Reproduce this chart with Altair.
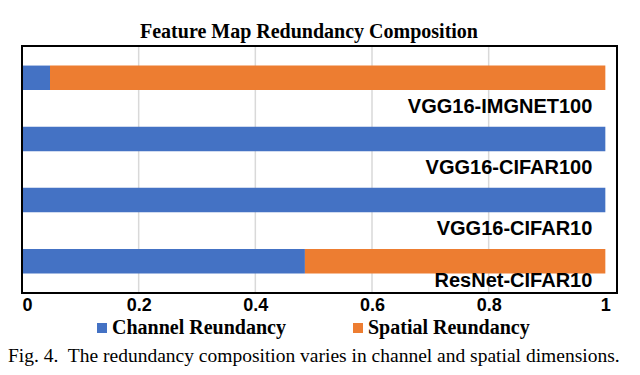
import altair as alt
import pandas as pd

# ---- data -------------------------------------------------------------
models = ["VGG16-IMGNET100", "VGG16-CIFAR100", "VGG16-CIFAR10", "ResNet-CIFAR10"]
channel_share = [0.048, 1.0, 1.0, 0.485]
spatial_share = [0.952, 0.0, 0.0, 0.515]
series_names = ["Channel Reundancy", "Spatial Reundancy"]
series_colors = ["#4472C4", "#ED7D31"]
tick_values = [0, 0.2, 0.4, 0.6, 0.8, 1]
grid_values = [0.2, 0.4, 0.6, 0.8]
title_text = "Feature Map Redundancy Composition"
caption_text = "Fig. 4.\u00a0 The redundancy composition varies in channel and spatial dimensions."

rows = []
for m, c, s in zip(models, channel_share, spatial_share):
    rows.append({"model": m, "series": series_names[0], "value": c, "ord": 0})
    rows.append({"model": m, "series": series_names[1], "value": s, "ord": 1})
df = pd.DataFrame(rows)
labels_df = pd.DataFrame({"model": models, "pos": [1.0] * len(models)})
grid_df = pd.DataFrame({"g": grid_values})
one_row = pd.DataFrame({"f": [0]})

W, H = 595, 247
xscale = alt.Scale(domain=[0, 1.02], nice=False, zero=True)
yscale = alt.Scale(domain=models, paddingInner=0.6, paddingOuter=0.32)

x_axis = alt.Axis(
    values=tick_values,
    format="~g",
    title=None,
    grid=False,
    ticks=False,
    domain=False,
    labelFont="Liberation Sans",
    labelFontWeight="bold",
    labelFontSize=18,
    labelColor="black",
    labelPadding=3,
)

grid = alt.Chart(grid_df).mark_rule(color="#d9d9d9", strokeWidth=1.5).encode(
    x=alt.X("g:Q", scale=xscale, axis=x_axis)
)

bars = alt.Chart(df).mark_bar().encode(
    x=alt.X("value:Q", stack="zero", scale=xscale, axis=x_axis),
    y=alt.Y("model:N", scale=yscale, axis=None),
    color=alt.Color(
        "series:N",
        scale=alt.Scale(domain=series_names, range=series_colors),
        legend=alt.Legend(
            title=None,
            orient="none",
            legendX=70,
            legendY=272,
            direction="horizontal",
            symbolType="square",
            symbolSize=100,
            symbolStrokeWidth=0,
            symbolOpacity=1,
            labelFont="Liberation Serif",
            labelFontWeight="bold",
            labelFontSize=20,
            labelColor="black",
            labelOffset=0,
            labelLimit=400,
            columnPadding=62,
            padding=0,
        ),
    ),
    order=alt.Order("ord:Q"),
)

label_font = dict(
    font="Liberation Sans", fontWeight="bold", fontSize=20, color="black",
    align="right", baseline="alphabetic", dx=-13,
)
labels_top = alt.Chart(labels_df).transform_filter(
    alt.datum.model != "ResNet-CIFAR10"
).mark_text(yOffset=35, **label_font).encode(
    x=alt.X("pos:Q", scale=xscale, axis=x_axis),
    y=alt.Y("model:N", scale=yscale, axis=None),
    text="model:N",
)
labels_last = alt.Chart(labels_df).transform_filter(
    alt.datum.model == "ResNet-CIFAR10"
).mark_text(yOffset=26, **label_font).encode(
    x=alt.X("pos:Q", scale=xscale, axis=x_axis),
    y=alt.Y("model:N", scale=yscale, axis=None),
    text="model:N",
)

# plot-area frame drawn as thin filled rectangles (one per edge)
edge_fill = dict(color="#000000", opacity=1, strokeWidth=0)
frame_top = alt.Chart(one_row).mark_rect(**edge_fill).encode(
    x=alt.value(-1), x2=alt.value(W + 1), y=alt.value(-1), y2=alt.value(1))
frame_bottom = alt.Chart(one_row).mark_rect(**edge_fill).encode(
    x=alt.value(-1), x2=alt.value(W + 1), y=alt.value(H - 1), y2=alt.value(H + 1))
frame_left = alt.Chart(one_row).mark_rect(**edge_fill).encode(
    x=alt.value(-1), x2=alt.value(1), y=alt.value(-1), y2=alt.value(H + 1))
frame_right = alt.Chart(one_row).mark_rect(**edge_fill).encode(
    x=alt.value(W - 1), x2=alt.value(W + 1), y=alt.value(-1), y2=alt.value(H + 1))

title = alt.Chart(pd.DataFrame({"t": [title_text]})).mark_text(
    font="Liberation Serif", fontWeight="bold", fontSize=20, color="black",
    align="center", baseline="alphabetic",
).encode(x=alt.value(287), y=alt.value(-8), text="t:N")

caption = alt.Chart(pd.DataFrame({"t": [caption_text]})).mark_text(
    font="Liberation Serif", fontSize=19.5, color="black",
    align="left", baseline="alphabetic",
).encode(x=alt.value(-14), y=alt.value(316), text="t:N")

chart = alt.layer(
    grid, bars, labels_top, labels_last,
    frame_top, frame_bottom, frame_left, frame_right,
    title, caption,
).properties(
    width=W,
    height=H,
    autosize=alt.AutoSizeParams(type="none"),
    padding={"left": 14, "top": 38, "right": 15, "bottom": 74},
).configure(background="white").configure_view(stroke=None)

chart.save("out.html", embed_options={"renderer": "svg", "actions": False})
